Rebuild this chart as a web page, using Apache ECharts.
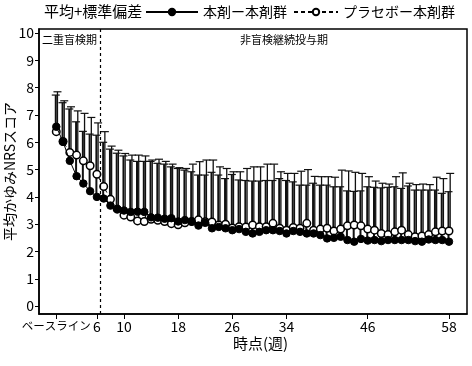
<!DOCTYPE html>
<html><head><meta charset="utf-8">
<script src="https://cdn.jsdelivr.net/npm/echarts@6/dist/echarts.min.js"></script>
<style>html,body{margin:0;padding:0;background:#fff}#c{width:472px;height:366px}</style>
</head><body><div id="c"></div>
<script>
// time points (weeks)
const weeks = [0,1,2,3,4,5,6,7,8,9,10,11,12,13,14,15,16,17,18,19,20,21,22,23,24,25,26,27,28,29,30,31,32,33,34,35,36,37,38,39,40,41,42,43,44,45,46,47,48,49,50,51,52,53,54,55,56,57,58];
// 本剤－本剤群 mean
const activeMean = [6.57,6.02,5.32,4.76,4.49,4.21,4.00,3.94,3.68,3.56,3.50,3.45,3.46,3.45,3.25,3.24,3.20,3.22,3.10,3.15,3.10,2.95,3.05,2.85,2.90,2.85,2.78,2.82,2.72,2.66,2.72,2.78,2.78,2.75,2.66,2.75,2.72,2.66,2.66,2.60,2.48,2.50,2.54,2.42,2.36,2.46,2.40,2.42,2.38,2.42,2.42,2.42,2.42,2.38,2.36,2.44,2.42,2.42,2.36];
// 本剤－本剤群 mean + SD
const activeUpper = [7.73,7.45,7.22,6.75,6.40,6.30,6.26,6.00,5.75,5.60,5.50,5.35,5.30,5.30,5.30,5.23,5.20,5.10,5.04,4.98,4.92,4.80,4.80,4.90,4.80,4.67,4.82,4.62,4.60,4.58,4.58,4.60,4.60,4.67,4.60,4.55,4.43,4.43,4.50,4.43,4.43,4.37,4.37,4.22,4.20,4.22,4.37,4.35,4.33,4.35,4.37,4.31,4.40,4.25,4.25,4.25,4.25,4.13,4.19];
// プラセボ－本剤群 mean
const placeboMean = [6.39,6.03,5.63,5.53,5.32,5.14,4.83,4.38,3.91,3.55,3.33,3.26,3.12,3.10,3.18,3.14,3.10,3.02,2.98,3.05,3.10,3.16,3.09,3.08,2.97,3.00,2.86,2.91,2.90,2.97,2.91,2.91,3.03,2.85,2.78,2.88,2.85,3.03,2.78,2.82,2.85,2.75,2.82,2.94,2.97,2.94,2.82,2.78,2.66,2.62,2.72,2.78,2.62,2.54,2.57,2.62,2.72,2.75,2.75];
// プラセボ－本剤群 mean + SD
const placeboUpper = [7.85,7.52,7.30,7.15,7.06,6.91,6.71,6.39,5.86,5.71,5.59,5.53,5.53,5.50,5.35,5.38,5.30,5.20,5.07,5.04,5.20,5.29,5.35,5.35,5.10,5.04,4.92,4.92,5.04,5.10,5.10,5.20,5.20,4.92,4.86,4.86,4.94,5.00,4.75,4.74,4.74,4.72,4.98,4.95,4.90,4.86,4.74,4.58,4.50,4.47,4.74,4.88,4.50,4.45,4.47,4.45,4.72,4.67,4.86];
const xTicks = [0,6,10,18,26,34,46,58];
const yTicks = [0,1,2,3,4,5,6,7,8,9,10];
const phaseSplit = 6.5;

const FONT = "'Noto Sans CJK JP','Noto Sans',sans-serif";
const chart = echarts.init(document.getElementById('c'), null, {renderer:'canvas'});

function errRender(offset, width){
  return function(params, api){
    const x = api.value(0), lo = api.value(1), hi = api.value(2);
    const p1 = api.coord([x, lo]), p2 = api.coord([x, hi]);
    const cx = p1[0] + offset;
    return {type:'group', children:[
      {type:'line', shape:{x1:cx,y1:p1[1],x2:cx,y2:p2[1]}, style:{stroke:'#111', lineWidth:width}},
      {type:'line', shape:{x1:cx-4,y1:p2[1],x2:cx+4,y2:p2[1]}, style:{stroke:'#111', lineWidth:1.2}}
    ]};
  };
}

chart.setOption({
  animation:false,
  textStyle:{fontFamily:FONT, color:'#000'},
  title:{text:'平均+標準偏差', left:44, top:4, padding:0, textStyle:{fontSize:15, fontWeight:'normal', color:'#000', fontFamily:FONT}},
  legend:[
    {data:['本剤ー本剤群'], left:145, top:5, padding:0, itemWidth:52, itemHeight:8, textStyle:{fontSize:14, color:'#000', fontFamily:FONT}},
    {data:['プラセボー本剤群'], left:293, top:5, padding:0, itemWidth:44, itemHeight:8, textStyle:{fontSize:14, color:'#000', fontFamily:FONT}}
  ],
  grid:{left:39, right:5, top:29, bottom:52, show:true, borderColor:'#000', borderWidth:1.5, containLabel:false, outerBoundsMode:'none'},
  xAxis:{
    type:'value', min:-2.55, max:60.66,
    axisLine:{show:true, onZero:false, lineStyle:{color:'#000', width:1.5}},
    axisTick:{show:true, length:5, customValues:xTicks, lineStyle:{color:'#000'}},
    axisLabel:{customValues:xTicks, fontSize:14, color:'#000', margin:6, fontFamily:FONT, hideOverlap:false,
      formatter:v => v === 0 ? '{s|ベースライン}' : String(v),
      rich:{s:{fontSize:11.5, fontFamily:FONT, color:'#000'}}},
    splitLine:{show:false}
  },
  yAxis:{
    type:'value', min:-0.29, max:10.15,
    name:'平均かゆみNRSスコア', nameLocation:'middle', nameRotate:90, nameGap:22, nameMoveOverlap:false,
    nameTextStyle:{fontSize:14, color:'#000', fontFamily:FONT},
    axisLine:{show:true, onZero:false, lineStyle:{color:'#000', width:1.5}},
    axisTick:{show:true, length:4, customValues:yTicks, lineStyle:{color:'#000'}},
    axisLabel:{customValues:yTicks, fontSize:14, color:'#000', margin:5, fontFamily:FONT},
    splitLine:{show:false}
  },
  graphic:[
    {type:'text', left:42, top:34, style:{text:'二重盲検期', fontSize:11, fill:'#000', fontFamily:FONT}},
    {type:'text', left:240, top:34, style:{text:'非盲検継続投与期', fontSize:11, fill:'#000', fontFamily:FONT}},
    {type:'text', left:233, top:336, style:{text:'時点(週)', fontSize:15, fill:'#000', fontFamily:FONT}}
  ],
  series:[
    {type:'custom', name:'sdA', renderItem:errRender(-0.5,2), z:1,
      encode:{x:0, y:[1,2]}, data:weeks.map((w,i)=>[w, activeMean[i], activeUpper[i]]), silent:true},
    {type:'custom', name:'sdP', renderItem:errRender(1.2,1.3), z:1,
      encode:{x:0, y:[1,2]}, data:weeks.map((w,i)=>[w, placeboMean[i], placeboUpper[i]]), silent:true},
    {type:'line', name:'プラセボー本剤群', z:3, data:weeks.map((w,i)=>[w, placeboMean[i]]),
      symbol:'circle', symbolSize:7.5, showSymbol:true,
      lineStyle:{color:'#000', width:1, type:[4,3]},
      itemStyle:{color:'#fff', borderColor:'#000', borderWidth:1.5}},
    {type:'line', name:'本剤ー本剤群', z:4, data:weeks.map((w,i)=>[w, activeMean[i]]),
      symbol:'circle', symbolSize:7.5, showSymbol:true,
      lineStyle:{color:'#000', width:1},
      itemStyle:{color:'#000', borderColor:'#000', borderWidth:1},
      markLine:{silent:true, symbol:['none','none'], label:{show:false},
        lineStyle:{color:'#000', width:1.2, type:[3,3]},
        data:[{xAxis:phaseSplit}]}}
  ]
});
</script></body></html>
